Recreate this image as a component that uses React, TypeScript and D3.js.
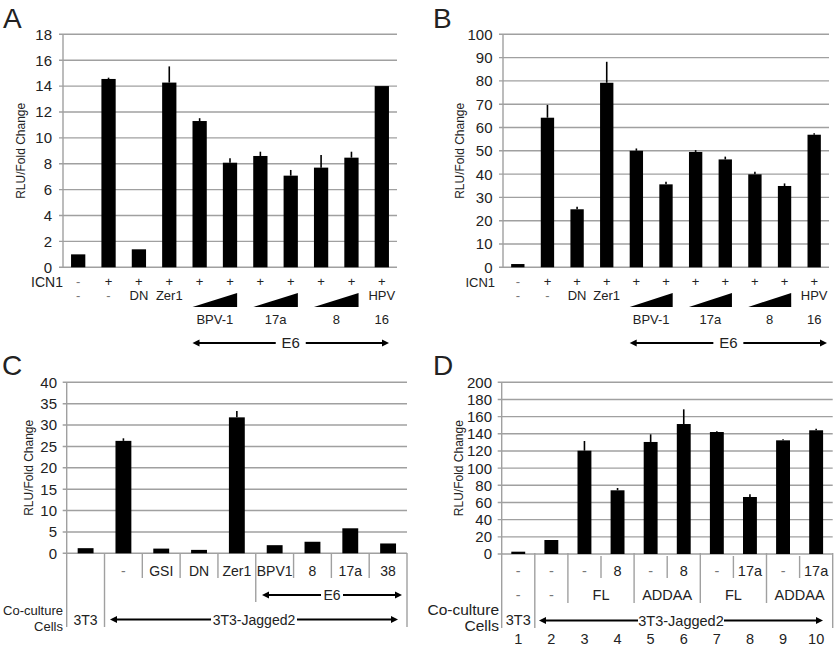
import React from "react";
import * as d3 from "d3";

const FONT = "'Liberation Sans', Arial, Helvetica, sans-serif";
const GRID = "#a0a0a0";
const INK = "#222";

// ---------- Panel A data ----------
const aValues = [1.0, 14.55, 1.39, 14.27, 11.3, 8.08, 8.6, 7.08, 7.7, 8.47, 14.0];
const aErrors = [0, 0.1, 0, 1.25, 0.22, 0.34, 0.33, 0.44, 0.98, 0.46, 0];
const aICN1 = ["-", "+", "+", "+", "+", "+", "+", "+", "+", "+", "+"];
const aTreat = ["-", "-", "DN", "Zer1", "", "", "", "", "", "", "HPV"];
const aSub = ["", "", "", "", "", "", "", "", "", "", "16"];
const aWedges = [
  { label: "BPV-1", from: 4, to: 5 },
  { label: "17a", from: 6, to: 7 },
  { label: "8", from: 8, to: 9 },
];

// ---------- Panel B data ----------
const bValues = [1.4, 64.2, 24.9, 79.2, 50.0, 35.6, 49.5, 46.3, 39.9, 34.9, 56.9];
const bErrors = [0, 5.5, 1.1, 9.0, 1.0, 1.1, 0.8, 1.2, 1.1, 1.1, 0.6];
const bICN1 = ["-", "+", "+", "+", "+", "+", "+", "+", "+", "+", "+"];
const bTreat = ["-", "-", "DN", "Zer1", "", "", "", "", "", "", "HPV"];
const bSub = ["", "", "", "", "", "", "", "", "", "", "16"];
const bWedges = [
  { label: "BPV-1", from: 4, to: 5 },
  { label: "17a", from: 6, to: 7 },
  { label: "8", from: 8, to: 9 },
];

// ---------- Panel C data ----------
const cValues = [1.2, 26.3, 1.1, 0.8, 31.8, 1.9, 2.7, 5.85, 2.3];
const cErrors = [0, 0.6, 0, 0, 1.5, 0, 0, 0, 0];
const cTreat = ["", "-", "GSI", "DN", "Zer1", "BPV1", "8", "17a", "38"];

// ---------- Panel D data ----------
const dValues = [2.7, 16.3, 120.3, 74.2, 130.5, 151.4, 142.1, 66.4, 132.4, 144.1];
const dErrors = [0, 0, 11.3, 2.7, 8.9, 17.1, 0.8, 3.1, 1.2, 1.9];
const dE6 = ["-", "-", "-", "8", "-", "8", "-", "17a", "-", "17a"];
const dNotch = [
  { label: "-", from: 0, to: 0 },
  { label: "-", from: 1, to: 1 },
  { label: "FL", from: 2, to: 3 },
  { label: "ADDAA", from: 4, to: 5 },
  { label: "FL", from: 6, to: 7 },
  { label: "ADDAA", from: 8, to: 9 },
];
const dLanes = ["1", "2", "3", "4", "5", "6", "7", "8", "9", "10"];

const yLabel = "RLU/Fold Change";

function makeX(n: number, x0: number, x1: number, ratio: number) {
  const p = 1 - ratio;
  return d3.scaleBand<number>().domain(d3.range(n)).range([x0, x1]).paddingInner(p).paddingOuter(p / 2);
}

type PanelProps = {
  x: d3.ScaleBand<number>;
  y: d3.ScaleLinear<number, number>;
  max: number;
  step: number;
  values: number[];
  errors: number[];
  tickRight: number;
  labelX: number;
};

function BarPanel({ x, y, max, step, values, errors, tickRight, labelX }: PanelProps) {
  const [x0, x1] = x.range();
  const ticks = d3.range(0, max + step / 2, step);
  const [yb, yt] = y.range();
  return (
    <g>
      {ticks.map((t) => (
        <g key={t}>
          <line x1={x0 - 4} x2={x1} y1={y(t)} y2={y(t)} stroke={GRID} strokeWidth={1.4} />
          <text x={tickRight} y={y(t)} dy="0.36em" textAnchor="end" fontSize={15} fill={INK} fontFamily={FONT}>
            {t}
          </text>
        </g>
      ))}
      <line x1={x0} x2={x0} y1={yt} y2={yb} stroke={GRID} strokeWidth={1.4} />
      {values.map((v, i) => (
        <g key={i}>
          {errors[i] > 0 && (
            <line
              x1={x(i)! + x.bandwidth() / 2}
              x2={x(i)! + x.bandwidth() / 2}
              y1={y(v)}
              y2={y(v + errors[i])}
              stroke="#000"
              strokeWidth={1.6}
            />
          )}
          <rect x={x(i)} y={y(v)} width={x.bandwidth()} height={y(0) - y(v)} fill="#000" />
        </g>
      ))}
      <text
        transform={`translate(${labelX},${(yt + yb) / 2}) rotate(-90)`}
        textAnchor="middle"
        dy="0.35em"
        fontSize={12}
        fill={INK}
        fontFamily={FONT}
      >
        {yLabel}
      </text>
    </g>
  );
}

function Arrow({ xa, xb, y, label, halfGap, fontSize = 15 }: { xa: number; xb: number; y: number; label: string; halfGap: number; fontSize?: number }) {
  const cx = (xa + xb) / 2;
  const h = 7;
  const w = 3.5;
  return (
    <g>
      <line x1={xa + h - 1} x2={cx - halfGap} y1={y} y2={y} stroke="#000" strokeWidth={2.2} />
      <line x1={cx + halfGap} x2={xb - h + 1} y1={y} y2={y} stroke="#000" strokeWidth={2.2} />
      <path d={`M${xa},${y} L${xa + h},${y - w} L${xa + h},${y + w} Z`} fill="#000" />
      <path d={`M${xb},${y} L${xb - h},${y - w} L${xb - h},${y + w} Z`} fill="#000" />
      <text x={cx} y={y} dy="0.36em" textAnchor="middle" fontSize={fontSize} fill={INK} fontFamily={FONT}>
        {label}
      </text>
    </g>
  );
}

function TopTable({
  x,
  icn,
  treat,
  sub,
  wedges,
  rowLabelRight,
  rowLabelSize,
}: {
  x: d3.ScaleBand<number>;
  icn: string[];
  treat: string[];
  sub: string[];
  wedges: { label: string; from: number; to: number }[];
  rowLabelRight: number;
  rowLabelSize: number;
}) {
  const c = (i: number) => x(i)! + x.bandwidth() / 2;
  return (
    <g fontFamily={FONT} fill={INK} fontSize={13}>
      <text x={rowLabelRight} y={287} textAnchor="end" fontSize={rowLabelSize}>ICN1</text>
      {icn.map((s, i) => (
        <text key={"i" + i} x={c(i)} y={286} textAnchor="middle" fill={s === "-" ? "#777" : INK}>{s}</text>
      ))}
      {treat.map((s, i) => (
        <text key={"t" + i} x={c(i)} y={300} textAnchor="middle" fill={s === "-" ? "#777" : INK}>{s}</text>
      ))}
      {sub.map((s, i) => (
        <text key={"s" + i} x={c(i)} y={323.5} textAnchor="middle">{s}</text>
      ))}
      {wedges.map((w, k) => {
        const l = x(w.from)!;
        const r = x(w.to)! + x.bandwidth();
        return (
          <g key={"w" + k}>
            <path d={`M${l},307 L${r},307 L${r},293 Z`} fill="#000" />
            <text x={(l + r) / 2} y={323.5} textAnchor="middle">{w.label}</text>
          </g>
        );
      })}
    </g>
  );
}

export default function App() {
  // Panel A
  const xA = makeX(aValues.length, 63, 397, 0.47);
  const yA = d3.scaleLinear().domain([0, 18]).range([267.3, 34.3]);
  // Panel B
  const xB = makeX(bValues.length, 503, 829, 0.45);
  const yB = d3.scaleLinear().domain([0, 100]).range([267.3, 34.3]);
  // Panel C
  const xC = makeX(cValues.length, 66.7, 407, 0.42);
  const yC = d3.scaleLinear().domain([0, 40]).range([553.3, 382.3]);
  // Panel D
  const xD = makeX(dValues.length, 501.7, 832.7, 0.42);
  const yD = d3.scaleLinear().domain([0, 200]).range([554, 382.3]);

  const edgeC = (k: number) => 66.7 + k * xC.step();
  const edgeD = (k: number) => 501.7 + k * xD.step();
  const cC = (i: number) => xC(i)! + xC.bandwidth() / 2;
  const cD = (i: number) => xD(i)! + xD.bandwidth() / 2;

  return (
    <svg width={835} height={647} style={{ position: "absolute", left: 0, top: 0, background: "#fff" }}>
      <rect width={835} height={647} fill="#fff" />
      {/* panel letters */}
      <g fontFamily={FONT} fontSize={28} fill={INK}>
        <text x={3} y={28}>A</text>
        <text x={433} y={28}>B</text>
        <text x={2} y={375}>C</text>
        <text x={433} y={375}>D</text>
      </g>

      {/* A */}
      <BarPanel x={xA} y={yA} max={18} step={2} values={aValues} errors={aErrors} tickRight={52} labelX={21} />
      <TopTable x={xA} icn={aICN1} treat={aTreat} sub={aSub} wedges={aWedges} rowLabelRight={63} rowLabelSize={14} />
      <Arrow xa={xA(4)!} xb={389} y={343} label="E6" halfGap={15} />

      {/* B */}
      <BarPanel x={xB} y={yB} max={100} step={10} values={bValues} errors={bErrors} tickRight={492.5} labelX={460} />
      <TopTable x={xB} icn={bICN1} treat={bTreat} sub={bSub} wedges={bWedges} rowLabelRight={495} rowLabelSize={13} />
      <Arrow xa={xB(4)!} xb={827} y={343} label="E6" halfGap={15} />

      {/* C */}
      <BarPanel x={xC} y={yC} max={40} step={5} values={cValues} errors={cErrors} tickRight={57} labelX={29} />
      <g stroke={GRID} strokeWidth={1.4}>
        <line x1={edgeC(0)} x2={edgeC(0)} y1={553} y2={627} />
        <line x1={edgeC(1)} x2={edgeC(1)} y1={553} y2={627} />
        {d3.range(2, cValues.length).map((k) => (
          <line key={k} x1={edgeC(k)} x2={edgeC(k)} y1={553} y2={k === 5 ? 602 : 578} />
        ))}
        <line x1={edgeC(9)} x2={edgeC(9)} y1={553} y2={627} />
      </g>
      <g fontFamily={FONT} fontSize={14} fill={INK}>
        {cTreat.map((s, i) => (
          <text key={i} x={cC(i)} y={576} textAnchor="middle" fill={s === "-" ? "#777" : INK}>{s}</text>
        ))}
        <text x={63} y={615} textAnchor="end" fontSize={13}>Co-culture</text>
        <text x={63} y={630.5} textAnchor="end" fontSize={13}>Cells</text>
        <text x={cC(0)} y={625} textAnchor="middle">3T3</text>
      </g>
      <Arrow xa={262} xb={402} y={595} label="E6" halfGap={11} fontSize={14} />
      <Arrow xa={110} xb={398} y={619.5} label="3T3-Jagged2" halfGap={43} fontSize={14} />

      {/* D */}
      <BarPanel x={xD} y={yD} max={200} step={20} values={dValues} errors={dErrors} tickRight={492} labelX={459} />
      <g stroke={GRID} strokeWidth={1.4}>
        <line x1={edgeD(0)} x2={edgeD(0)} y1={553} y2={628} />
        <line x1={edgeD(1)} x2={edgeD(1)} y1={553} y2={628} />
        {d3.range(2, dValues.length).map((k) =>
          k % 2 === 0 ? (
            <line key={k} x1={edgeD(k)} x2={edgeD(k)} y1={553} y2={603} />
          ) : (
            <line key={k} x1={edgeD(k)} x2={edgeD(k)} y1={556} y2={578} />
          )
        )}
        <line x1={edgeD(10)} x2={edgeD(10)} y1={553} y2={628} />
      </g>
      <g fontFamily={FONT} fontSize={14.5} fill={INK}>
        {dE6.map((s, i) => (
          <text key={"e" + i} x={cD(i)} y={576} textAnchor="middle" fill={s === "-" ? "#777" : INK}>{s}</text>
        ))}
        {dNotch.map((g, k) => (
          <text
            key={"n" + k}
            x={(cD(g.from) + cD(g.to)) / 2}
            y={600}
            textAnchor="middle"
            fill={g.label === "-" ? "#777" : INK}
          >
            {g.label}
          </text>
        ))}
        <text x={499} y={615} textAnchor="end" fontSize={15.5}>Co-culture</text>
        <text x={499} y={630.5} textAnchor="end" fontSize={15.5}>Cells</text>
        <text x={cD(0)} y={625} textAnchor="middle">3T3</text>
        {dLanes.map((s, i) => (
          <text key={"l" + i} x={cD(i)} y={644} textAnchor="middle">{s}</text>
        ))}
      </g>
      <Arrow xa={539} xb={823} y={620.5} label="3T3-Jagged2" halfGap={43} fontSize={14.5} />
    </svg>
  );
}
